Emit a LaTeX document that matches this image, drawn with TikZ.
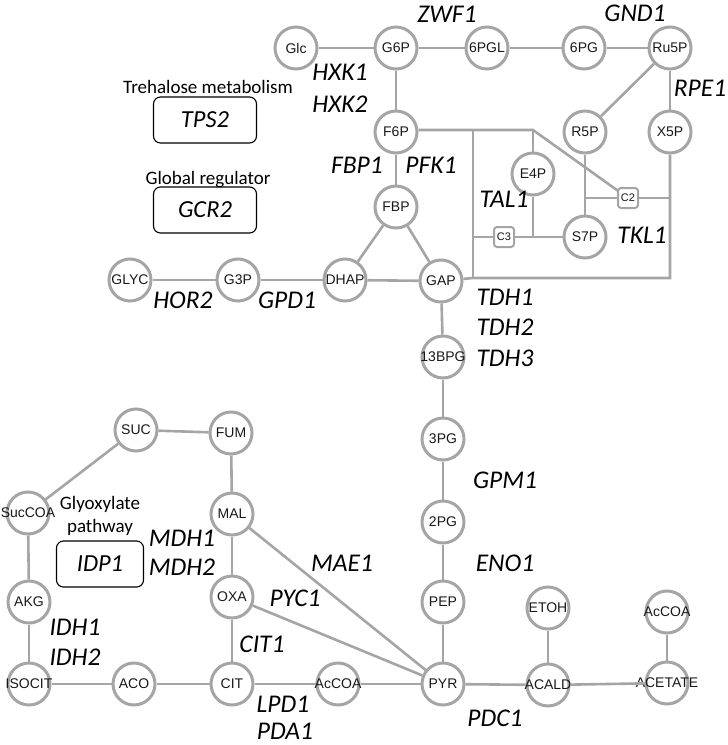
\documentclass[tikz,border=0pt]{standalone}
\usepackage{fontspec}
\setmainfont{Carlito}
\newfontfamily\arialf{Liberation Sans}
\definecolor{lgray}{RGB}{165,165,165}
\newcommand{\mt}[1]{\makebox[0pt]{#1}}
\begin{document}
\begin{tikzpicture}[x=1pt,y=-1pt,
  met/.style={circle, draw=lgray, line width=3pt, minimum size=42pt, inner sep=0pt,
    font=\arialf\fontsize{14}{14}\selectfont, text=black!90, fill=white},
  cbox/.style={draw=lgray, line width=2pt, rounded corners=3pt, minimum size=20pt, inner sep=1pt,
    font=\arialf\fontsize{11}{11}\selectfont, text=black!90, fill=white},
  link/.style={draw=lgray, line width=2.6pt},
  gene/.style={font=\itshape\fontsize{25.5}{25.5}\selectfont, inner sep=1pt},
  note/.style={font=\fontsize{19}{23}\selectfont},
  gbox/.style={draw=black, line width=1.1pt, rounded corners=7pt, minimum width=103pt, minimum height=46pt,
    font=\itshape\fontsize{24.5}{24.5}\selectfont}]
\useasboundingbox (0,0) rectangle (728,745);
% metabolites
\node[met] (Glc) at (296,48) {Glc};
\node[met] (G6P) at (396,48) {G6P};
\node[met] (6PGL) at (487,48) {\mt{6PGL}};
\node[met] (6PG) at (584,48) {6PG};
\node[met] (Ru5P) at (670,48) {\mt{Ru5P}};
\node[met] (F6P) at (396,132) {F6P};
\node[met] (R5P) at (585,132) {R5P};
\node[met] (X5P) at (670,132) {X5P};
\node[met] (E4P) at (533,174) {E4P};
\node[met] (S7P) at (585,237) {S7P};
\node[met] (FBP) at (396,207) {FBP};
\node[met] (GLYC) at (130,280) {\mt{GLYC}};
\node[met] (G3P) at (238,280) {G3P};
\node[met] (DHAP) at (345,280) {\mt{DHAP}};
\node[met] (GAP) at (441,281) {GAP};
\node[met] (13BPG) at (443,357) {\mt{13BPG}};
\node[met] (3PG) at (443,439) {3PG};
\node[met] (2PG) at (443,522) {2PG};
\node[met] (PEP) at (443,602) {PEP};
\node[met] (PYR) at (443,684) {PYR};
\node[met] (ACALD) at (548,685) {\mt{ACALD}};
\node[met] (ACETATE) at (667,683) {\mt{ACETATE}};
\node[met] (ETOH) at (548,608) {\mt{ETOH}};
\node[met] (AcCOAb) at (667,612) {\mt{AcCOA}};
\node[met] (SUC) at (136,430) {SUC};
\node[met] (FUM) at (231,433) {FUM};
\node[met] (SucCOA) at (28,513) {\mt{SucCOA}};
\node[met] (MAL) at (232,514) {MAL};
\node[met] (OXA) at (232,597) {OXA};
\node[met] (AKG) at (29,602) {AKG};
\node[met] (ISOCIT) at (29,684) {\mt{ISOCIT}};
\node[met] (ACO) at (134,684) {ACO};
\node[met] (CIT) at (232,684) {CIT};
\node[met] (AcCOA) at (338,684) {\mt{AcCOA}};
% junctions
\coordinate (J1) at (473,130);
\coordinate (J2) at (533,130);
\coordinate (J3) at (473,237);
\coordinate (J4) at (533,237);
\coordinate (J5) at (585,198);
\coordinate (J6) at (670,198);
\coordinate (J7) at (670,278);
\coordinate (J8) at (473,278);
\coordinate (C2c) at (628,198);
\coordinate (C3c) at (504,237);
% connectors
\draw[link] (Glc) -- (G6P);
\draw[link] (G6P) -- (6PGL);
\draw[link] (6PGL) -- (6PG);
\draw[link] (6PG) -- (Ru5P);
\draw[link] (Ru5P) -- (R5P);
\draw[link] (Ru5P) -- (X5P);
\draw[link] (G6P) -- (F6P);
\draw[link] (F6P) -- (FBP);
\draw[link] (FBP) -- (DHAP);
\draw[link] (FBP) -- (GAP);
\draw[link] (DHAP) -- (GAP);
\draw[link] (GLYC) -- (G3P);
\draw[link] (G3P) -- (DHAP);
\draw[link] (F6P.east |- J1) -- (J1) -- (J2) -- (C2c);
\draw[link] (J2) -- (E4P);
\draw[link] (J1) -- (J8);
\draw[link] (E4P) -- (J4) -- (S7P);
\draw[link] (J3) -- (J4);
\draw[link] (R5P) -- (S7P);
\draw[link] (J5) -- (J6);
\draw[link] (X5P) -- (J7) -- (J8) -- (GAP);
\draw[link] (GAP) -- (13BPG);
\draw[link] (13BPG) -- (3PG);
\draw[link] (3PG) -- (2PG);
\draw[link] (2PG) -- (PEP);
\draw[link] (PEP) -- (PYR);
\draw[link] (PYR) -- (ACALD);
\draw[link] (ACALD) -- (ACETATE);
\draw[link] (ACALD) -- (ETOH);
\draw[link] (ACETATE) -- (AcCOAb);
\draw[link] (PYR) -- (AcCOA);
\draw[link] (AcCOA) -- (CIT);
\draw[link] (CIT) -- (ACO);
\draw[link] (ACO) -- (ISOCIT);
\draw[link] (ISOCIT) -- (AKG);
\draw[link] (AKG) -- (SucCOA);
\draw[link] (SucCOA) -- (SUC);
\draw[link] (SUC) -- (FUM);
\draw[link] (FUM) -- (MAL);
\draw[link] (MAL) -- (OXA);
\draw[link] (OXA) -- (CIT);
\draw[link] (MAL) -- (PYR);
\draw[link] (OXA) -- (PYR);
% carbon boxes on top of lines
\node[cbox] (C2) at (C2c) {C2};
\node[cbox] (C3) at (C3c) {C3};
% gene labels
\node[gene] (ZWF1) at (447,14) {ZWF1};
\node[gene] (GND1) at (635,13) {GND1};
\node[gene] (HXK1) at (340,72) {HXK1};
\node[gene] (HXK2) at (340,104) {HXK2};
\node[gene] (RPE1) at (700,88) {RPE1};
\node[gene] (FBP1) at (357,165) {FBP1};
\node[gene] (PFK1) at (431,165) {PFK1};
\node[gene] (TAL1) at (504,199) {TAL1};
\node[gene] (TKL1) at (642,235) {TKL1};
\node[gene] (TDH1) at (505,297) {TDH1};
\node[gene] (TDH2) at (505,327) {TDH2};
\node[gene] (TDH3) at (505,358) {TDH3};
\node[gene] (HOR2) at (183,300) {HOR2};
\node[gene] (GPD1) at (287,300) {GPD1};
\node[gene] (GPM1) at (505,480) {GPM1};
\node[gene] (ENO1) at (505,563) {ENO1};
\node[gene] (MAE1) at (342,563) {MAE1};
\node[gene] (PYC1) at (295,598) {PYC1};
\node[gene] (MDH1) at (182,538) {MDH1};
\node[gene] (MDH2) at (182,567) {MDH2};
\node[gene] (IDH1) at (75,627) {IDH1};
\node[gene] (IDH2) at (75,657) {IDH2};
\node[gene] (CIT1) at (262,644) {CIT1};
\node[gene] (LPD1) at (283,704) {LPD1};
\node[gene] (PDA1) at (285,731) {PDA1};
\node[gene] (PDC1) at (495,718) {PDC1};
% boxes and notes
\node[note] (tre) at (208,87) {Trehalose metabolism};
\node[gbox] (TPS2) at (205,120) {TPS2};
\node[note] (glob) at (208,180) {Global regulator};
\node[gbox] (GCR2) at (205,210) {GCR2};
\node[note] (gly1) at (100,504) {Glyoxylate};
\node[note] (gly2) at (100,527) {pathway};
\node[gbox, minimum width=87pt] (IDP1) at (100,564) {IDP1};
\end{tikzpicture}
\end{document}
